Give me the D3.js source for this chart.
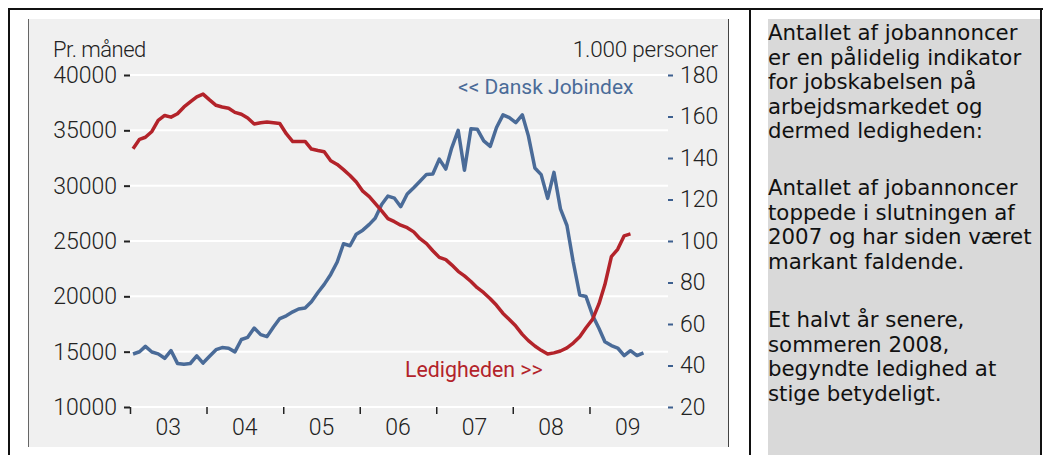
<!DOCTYPE html>
<html>
<head>
<meta charset="utf-8">
<script src="https://cdn.jsdelivr.net/npm/d3@7"></script>
<style>
  html, body { margin: 0; padding: 0; background: #fff; }
  svg { display: block; }
</style>
</head>
<body>
<svg id="chart" width="1043" height="455"></svg>
<script>
// ---- DATA ----
const startMonth = "2003-01";
// Dansk Jobindex (job ads per month, left axis)
const jobindex = [
  14790, 14990, 15480, 14970, 14800, 14400, 15100, 13940, 13870, 13930, 14620, 13970,
  14580, 15180, 15370, 15310, 14980, 16100, 16300, 17130, 16540, 16360, 17230, 17990,
  18240, 18600, 18860, 18950, 19520, 20350, 21080, 21980, 23100, 24750, 24570, 25620,
  25980, 26500, 27050, 28300, 29060, 28870, 28100, 29250, 29820, 30400, 31020, 31050,
  32400, 31500, 33400, 35000, 31400, 35150, 35100, 34050, 33550, 35250, 36400, 36150,
  35700, 36400, 34500, 31600, 31000, 28850, 31200, 27900, 26400, 23100, 20120, 19980,
  18300, 17100, 15900, 15550, 15330, 14650, 15090, 14650, 14900
];
// Ledigheden (1.000 personer, right axis)
const ledighed = [
  144.5, 149.0, 150.0, 152.8, 158.1, 160.5, 159.7, 161.3, 164.6, 167.0, 169.5, 170.8,
  168.0, 165.4, 164.6, 164.0, 162.0, 161.1, 159.3, 156.4, 157.0, 157.3, 157.0, 156.6,
  151.7, 147.9, 148.0, 148.0, 144.3, 143.6, 143.0, 138.7, 136.9, 134.4, 131.6, 128.4,
  124.0, 121.4, 118.1, 114.5, 110.8, 109.3, 107.6, 106.4, 104.4, 101.1, 98.7, 95.3,
  92.1, 91.0, 88.5, 85.4, 83.2, 80.5, 77.5, 75.1, 72.2, 69.0, 65.1, 62.2,
  59.0, 55.0, 52.0, 49.4, 47.3, 45.5, 46.1, 47.0, 48.5, 50.8, 53.9, 58.2,
  62.2, 69.8, 79.0, 92.5, 96.0, 102.5, 103.4
];
const leftTicks = [10000, 15000, 20000, 25000, 30000, 35000, 40000];
const rightTicks = [20, 40, 60, 80, 100, 120, 140, 160, 180];
const yearLabels = ["03", "04", "05", "06", "07", "08", "09"];
const yearStarts = [2003, 2004, 2005, 2006, 2007, 2008, 2009];

const paragraphs = [
  ["Antallet af jobannoncer", "er en pålidelig indikator", "for jobskabelsen på", "arbejdsmarkedet og", "dermed ledigheden:"],
  ["Antallet af jobannoncer", "toppede i slutningen af", "2007 og har siden været", "markant faldende."],
  ["Et halvt år senere,", "sommeren 2008,", "begyndte ledighed at", "stige betydeligt."]
];

// ---- STYLE ----
const BLUE = "#4a6b98";
const RED = "#b3232a";
const FONT = "Roboto, 'Liberation Sans', sans-serif";

const svg = d3.select("#chart");

// Frames
svg.append("rect").attr("x", 768).attr("y", 19).attr("width", 272).attr("height", 436).attr("fill", "#d9d9d9");
svg.append("rect").attr("x", 28).attr("y", 19).attr("width", 700).attr("height", 428).attr("fill", "#f0f0f0");
svg.append("line").attr("x1", 28.5).attr("x2", 28.5).attr("y1", 19).attr("y2", 447).attr("stroke", "#666").attr("stroke-width", 1);
svg.append("line").attr("x1", 728.5).attr("x2", 728.5).attr("y1", 19).attr("y2", 447).attr("stroke", "#444").attr("stroke-width", 1);
const frame = svg.append("g").attr("stroke", "#111").attr("stroke-width", 2);
frame.append("line").attr("x1", 9).attr("x2", 1043).attr("y1", 9).attr("y2", 9);
frame.append("line").attr("x1", 9).attr("x2", 9).attr("y1", 8).attr("y2", 455);
frame.append("line").attr("x1", 750).attr("x2", 750).attr("y1", 8).attr("y2", 455);
frame.append("line").attr("x1", 1041).attr("x2", 1041).attr("y1", 8).attr("y2", 455);

// Scales
const parse = d3.utcParse("%Y-%m");
const t0 = parse(startMonth);
const monthDate = i => { const d = d3.utcMonth.offset(t0, i); return new Date(d.getTime() + 14.5 * 864e5); };
const x = d3.scaleUtc().domain([new Date(Date.UTC(2003, 0, 1)), new Date(Date.UTC(2010, 0, 1))]).range([130, 666]);
const yL = d3.scaleLinear().domain([10000, 40000]).range([407, 75]);
const yR = d3.scaleLinear().domain([20, 180]).range([407, 75]);

// Gridlines
svg.append("g").selectAll("line").data(leftTicks).join("line")
  .attr("x1", 130).attr("x2", 668)
  .attr("y1", d => yL(d)).attr("y2", d => yL(d))
  .attr("stroke", "#fff").attr("stroke-width", 2);

// Left axis
const axL = svg.append("g").attr("transform", "translate(130,0)")
  .call(d3.axisLeft(yL).tickValues(leftTicks).tickSize(6).tickPadding(7).tickFormat(d3.format("d")));
axL.select(".domain").remove();
axL.selectAll("line").attr("stroke", "#222").attr("stroke-width", 2);
axL.selectAll("text").attr("font-family", FONT).attr("font-size", 23).attr("fill", "#222").attr("font-weight", 300);

// Right axis
const axR = svg.append("g").attr("transform", "translate(668,0)")
  .call(d3.axisRight(yR).tickValues(rightTicks).tickSize(5).tickPadding(7).tickFormat(d3.format("d")));
axR.select(".domain").remove();
axR.selectAll("line").attr("stroke", "#3d5f8f").attr("stroke-width", 2);
axR.selectAll("text").attr("font-family", FONT).attr("font-size", 23).attr("fill", "#222").attr("font-weight", 300);

// Bottom axis (year boundaries)
const axB = svg.append("g").attr("transform", "translate(0,407)")
  .call(d3.axisBottom(x).tickValues(yearStarts.map(y => new Date(Date.UTC(y, 0, 1)))).tickSize(7).tickFormat(""));
axB.select(".domain").remove();
axB.selectAll("line").attr("stroke", "#222").attr("stroke-width", 1.5);
svg.append("g").selectAll("text").data(yearLabels).join("text")
  .attr("x", (d, i) => x(new Date(Date.UTC(yearStarts[i], 6, 2))))
  .attr("y", 435)
  .attr("text-anchor", "middle")
  .attr("font-family", FONT).attr("font-size", 23).attr("font-weight", 300).attr("fill", "#222")
  .text(d => d);

// Lines
const lineL = d3.line().x((d, i) => x(monthDate(i))).y(d => yL(d));
const lineR = d3.line().x((d, i) => x(monthDate(i))).y(d => yR(d));
svg.append("path").datum(jobindex).attr("d", lineL)
  .attr("fill", "none").attr("stroke", BLUE).attr("stroke-width", 3.5).attr("stroke-linejoin", "round");
svg.append("path").datum(ledighed).attr("d", lineR)
  .attr("fill", "none").attr("stroke", RED).attr("stroke-width", 3.5).attr("stroke-linejoin", "round");

// Titles / labels
svg.append("text").attr("x", 53).attr("y", 57).attr("font-family", FONT).attr("font-size", 22).attr("font-weight", 300)
  .attr("fill", "#222").attr("letter-spacing", -0.5).text("Pr. måned");
svg.append("text").attr("x", 718).attr("y", 57).attr("text-anchor", "end").attr("font-family", FONT).attr("font-size", 22.5)
  .attr("font-weight", 300).attr("fill", "#222").attr("letter-spacing", -0.2).text("1.000 personer");
svg.append("text").attr("x", 458).attr("y", 94).attr("font-family", FONT).attr("font-size", 21).attr("font-weight", 400)
  .attr("fill", BLUE).text("<< Dansk Jobindex");
svg.append("text").attr("x", 405).attr("y", 377).attr("font-family", FONT).attr("font-size", 21.3).attr("font-weight", 400)
  .attr("fill", RED).text("Ledigheden >>");

// Right text panel
const tg = svg.append("g").attr("font-family", "'DejaVu Sans', Verdana, sans-serif").attr("font-size", 21.3).attr("fill", "#111");
const paraStarts = [40, 195, 327];
paragraphs.forEach((p, pi) => {
  p.forEach((line, li) => {
    tg.append("text").attr("x", 768).attr("y", paraStarts[pi] + li * 24.5).text(line);
  });
});
</script>
</body>
</html>
